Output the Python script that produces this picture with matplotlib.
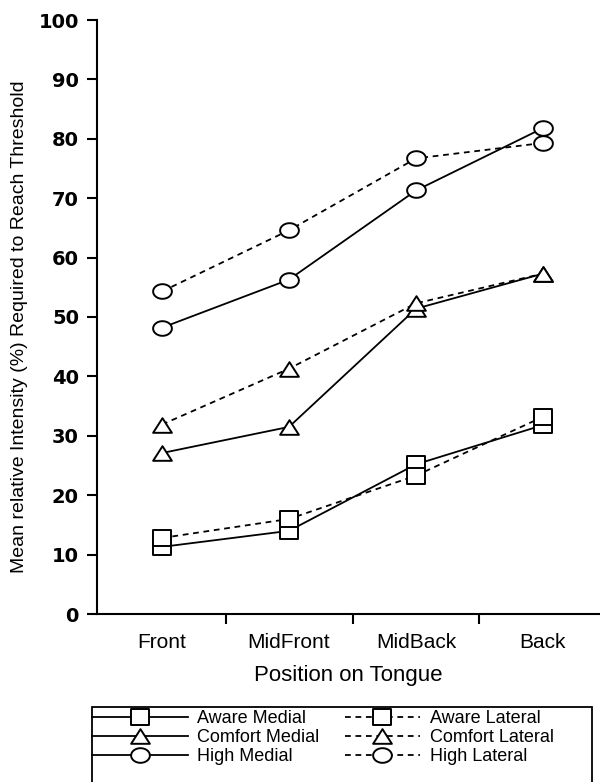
import numpy as np
import matplotlib
matplotlib.use('Agg')
import matplotlib.pyplot as plt
from matplotlib.path import Path
from matplotlib.patches import Rectangle

# %%
positions = ['Front', 'MidFront', 'MidBack', 'Back']

aware_medial = [11.3, 14.0, 25.2, 31.8]
aware_lateral = [12.8, 16.0, 23.3, 33.2]
comfort_medial = [27.1, 31.5, 51.4, 57.3]
comfort_lateral = [31.9, 41.3, 52.3, 57.3]
high_medial = [48.2, 56.3, 71.3, 81.8]
high_lateral = [54.3, 64.6, 76.7, 79.3]

y_ticks = [0, 10, 20, 30, 40, 50, 60, 70, 80, 90, 100]

# %%
plt.rcParams['font.family'] = ['Liberation Sans', 'DejaVu Sans']

# slightly squashed markers, like the original
sq = Path([(-0.5, -0.42), (0.5, -0.42), (0.5, 0.42), (-0.5, 0.42), (-0.5, -0.42)],
          [Path.MOVETO, Path.LINETO, Path.LINETO, Path.LINETO, Path.CLOSEPOLY])
tri = Path([(-0.5, -0.39), (0.5, -0.39), (0.0, 0.39), (-0.5, -0.39)],
           [Path.MOVETO, Path.LINETO, Path.LINETO, Path.CLOSEPOLY])
t = np.linspace(0, 2 * np.pi, 60)
ell = Path(np.column_stack([0.5 * np.cos(t), 0.39 * np.sin(t)]), closed=True)

fig = plt.figure(figsize=(6, 7.82), dpi=100)
ax = fig.add_axes([97 / 600, 1 - 614 / 782, 503 / 600, 594 / 782])

x = np.arange(1, len(positions) + 1)
dash = (0, (3.2, 2.6))
series = [
    (aware_medial, 'Aware Medial', sq, '-'),
    (comfort_medial, 'Comfort Medial', tri, '-'),
    (high_medial, 'High Medial', ell, '-'),
    (aware_lateral, 'Aware Lateral', sq, dash),
    (comfort_lateral, 'Comfort Lateral', tri, dash),
    (high_lateral, 'High Lateral', ell, dash),
]
handles = []
for vals, lab, mk, ls in series:
    h, = ax.plot(x, vals, color='black', linestyle=ls, linewidth=1.3,
                 marker=mk, markersize=13.5, markerfacecolor='white',
                 markeredgecolor='black', markeredgewidth=1.4, label=lab)
    handles.append(h)

ax.set_xlim(0.488, 4.449)
ax.set_ylim(0, 100)
ax.spines['top'].set_visible(False)
ax.spines['right'].set_visible(False)
ax.spines['left'].set_linewidth(1.5)
ax.spines['bottom'].set_linewidth(1.5)

ax.set_yticks(y_ticks)
ax.set_yticklabels([str(v) for v in y_ticks], fontweight='bold', fontsize=14,
                   family='DejaVu Sans')
ax.set_xticks([1.5, 2.5, 3.5])
ax.set_xticklabels([])
ax.set_xticks(x, minor=True)
ax.set_xticklabels(positions, minor=True, fontsize=15)
ax.tick_params(axis='x', which='minor', length=0, pad=14)
ax.tick_params(axis='both', which='major', direction='out', length=7, width=1.5)
ax.tick_params(axis='y', pad=6)

ax.set_ylabel('Mean relative Intensity (%) Required to Reach Threshold', fontsize=14)
ax.yaxis.set_label_coords(-0.138, 0.484)
ax.set_xlabel('Position on Tongue', fontsize=16, labelpad=9)

# two legends, one per column, so each column gets its own handle length
leg_kw = dict(loc='upper left', borderaxespad=0, fontsize=13, labelspacing=0.12,
              borderpad=0, numpoints=1, frameon=False)
leg1 = fig.legend(handles=handles[:3], bbox_to_anchor=(92 / 600, 1 - 710 / 782),
                  handlelength=5.3, handletextpad=0.5, **leg_kw)
leg2 = fig.legend(handles=handles[3:], bbox_to_anchor=(345 / 600, 1 - 710 / 782),
                  handlelength=4.15, handletextpad=0.55, **leg_kw)
# the legend box runs off the bottom of the figure
fig.patches.append(Rectangle((92 / 600, -0.05), 500 / 600, 1 - 707 / 782 + 0.05,
                             transform=fig.transFigure, fill=False,
                             edgecolor='black', linewidth=1.3))

plt.savefig('out.png', dpi=100)
plt.close()
